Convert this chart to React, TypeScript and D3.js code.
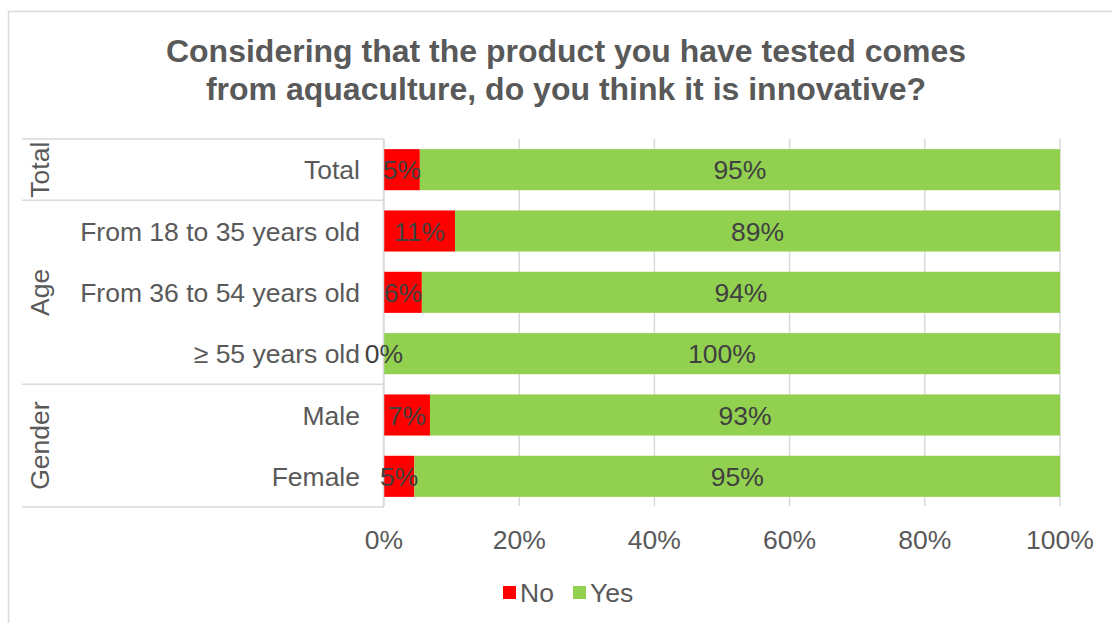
import React from "react";
import * as d3 from "d3";

const categories = ["Total", "From 18 to 35 years old", "From 36 to 54 years old", "≥ 55 years old", "Male", "Female"];
const noValues = [5.3, 10.5, 5.6, 0, 6.8, 4.5];
const yesValues = [94.7, 89.5, 94.4, 100, 93.2, 95.5];
const noLabels = ["5%", "11%", "6%", "0%", "7%", "5%"];
const yesLabels = ["95%", "89%", "94%", "100%", "93%", "95%"];
const groups = [
  { name: "Total", start: 0, end: 0 },
  { name: "Age", start: 1, end: 3 },
  { name: "Gender", start: 4, end: 5 },
];
const xTicks = [0, 20, 40, 60, 80, 100];
const titleLines = ["Considering that the product you have tested comes", "from aquaculture, do you think it is innovative?"];

const W = 1112;
const H = 623;
const FONT = "'Liberation Sans', Arial, sans-serif";
const RED = "#FF0000";
const GREEN = "#92D050";
const TEXT = "#595959";
const LABEL = "#404040";
const GRID = "#D9D9D9";
const FS = 26.5;

export default function App() {
  const plotTop = 139;
  const plotBottom = 507;
  const x = d3.scaleLinear().domain([0, 100]).range([384, 1060]);
  const y = d3
    .scaleBand<string>()
    .domain(categories)
    .range([plotTop, plotBottom])
    .paddingInner(0.33)
    .paddingOuter(0.165);
  const step = y.step();
  const bh = y.bandwidth();

  return (
    <svg width={W} height={H} style={{ position: "absolute", left: 0, top: 0, fontFamily: FONT }}>
      <rect x={0} y={0} width={W} height={H} fill="#fff" />
      <rect x={8.5} y={11.5} width={W + 10} height={H + 10} fill="#fff" stroke={GRID} strokeWidth={1.5} />
      {titleLines.map((t, i) => (
        <text key={i} x={566} y={62 + i * 37.5} textAnchor="middle" fontSize={32} fontWeight="bold" fill={TEXT}>
          {t}
        </text>
      ))}
      {/* gridlines */}
      {xTicks.map((t) => (
        <line key={t} x1={x(t)} x2={x(t)} y1={plotTop} y2={plotBottom - 1} stroke={GRID} strokeWidth={1.5} />
      ))}
      {/* bars */}
      {categories.map((c, i) => {
        const y0 = y(c)!;
        return (
          <g key={c}>
            <rect x={x(0)} y={y0} width={x(noValues[i]) - x(0)} height={bh} fill={RED} />
            <rect x={x(noValues[i])} y={y0} width={x(noValues[i] + yesValues[i]) - x(noValues[i])} height={bh} fill={GREEN} />
          </g>
        );
      })}
      {/* category axis line and group separators */}
      <line x1={383.5} x2={383.5} y1={plotTop} y2={plotBottom} stroke={GRID} strokeWidth={1.5} />
      {[0, 1, 4, 6].map((k) => (
        <line key={k} x1={22} x2={384} y1={plotTop + k * step} y2={plotTop + k * step} stroke={GRID} strokeWidth={1.5} />
      ))}
      {/* data labels */}
      {categories.map((c, i) => {
        const cy = y(c)! + bh / 2;
        return (
          <g key={c} fontSize={FS} fill={LABEL}>
            <text x={(x(0) + x(noValues[i])) / 2} y={cy} dy="0.36em" textAnchor="middle">
              {noLabels[i]}
            </text>
            <text x={(x(noValues[i]) + x(noValues[i] + yesValues[i])) / 2} y={cy} dy="0.36em" textAnchor="middle">
              {yesLabels[i]}
            </text>
          </g>
        );
      })}
      {/* category labels */}
      {categories.map((c) => (
        <text key={c} x={360} y={y(c)! + bh / 2} dy="0.36em" textAnchor="end" fontSize={FS} fill={TEXT}>
          {c}
        </text>
      ))}
      {/* group labels */}
      {groups.map((g) => {
        const cy = plotTop + ((g.start + g.end + 1) / 2) * step;
        return (
          <text key={g.name} transform={`translate(39,${cy}) rotate(-90)`} dy="0.36em" textAnchor="middle" fontSize={FS} fill={TEXT}>
            {g.name}
          </text>
        );
      })}
      {/* x tick labels */}
      {xTicks.map((t) => (
        <text key={t} x={x(t)} y={549} textAnchor="middle" fontSize={FS} fill={TEXT}>
          {t}%
        </text>
      ))}
      {/* legend */}
      <rect x={503} y={586} width={13} height={13} fill={RED} />
      <text x={520} y={602} fontSize={FS} fill={TEXT}>No</text>
      <rect x={573} y={586} width={13} height={13} fill={GREEN} />
      <text x={590} y={602} fontSize={FS} fill={TEXT}>Yes</text>
    </svg>
  );
}
